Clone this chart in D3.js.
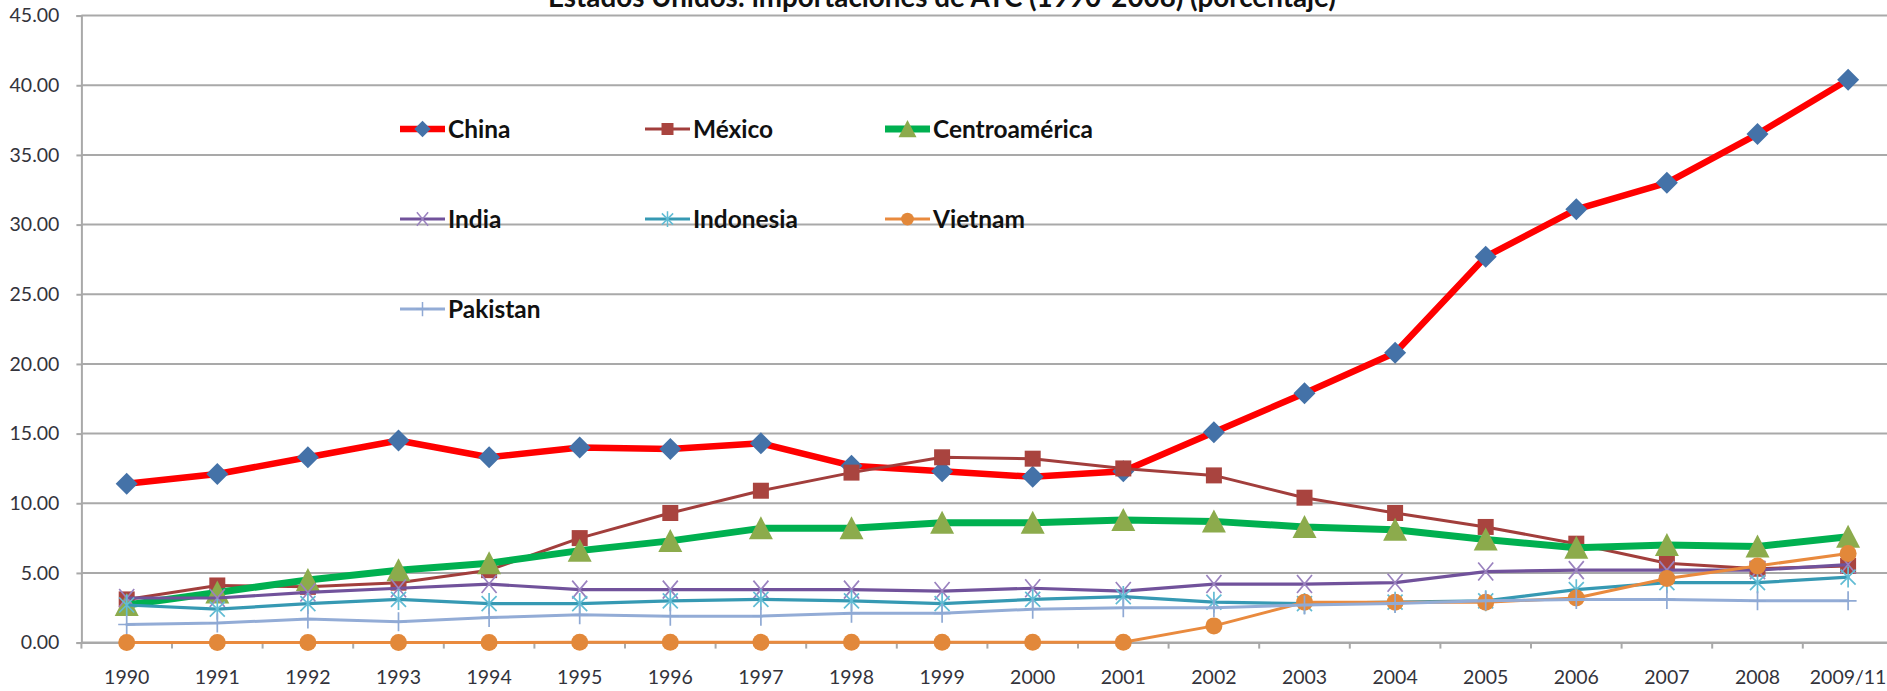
<!DOCTYPE html>
<html><head><meta charset="utf-8">
<script src="https://cdn.jsdelivr.net/npm/d3@7"></script>
<style>
body{margin:0;background:#fff;overflow:hidden}
text{font-family:Lato,"Open Sans","DejaVu Sans",sans-serif}
</style>
</head><body>
<svg id="c" width="1887" height="691"></svg>
<script>
// ---------- DATA ----------
const categories = ["1990","1991","1992","1993","1994","1995","1996","1997","1998","1999","2000","2001","2002","2003","2004","2005","2006","2007","2008","2009/11"];
const china         = [11.4,12.1,13.3,14.5,13.3,14.0,13.9,14.3,12.7,12.3,11.9,12.3,15.1,17.9,20.8,27.7,31.1,33.0,36.5,40.4];
const mexico        = [3.1,4.1,4.0,4.3,5.2,7.5,9.3,10.9,12.2,13.3,13.2,12.5,12.0,10.4,9.3,8.3,7.1,5.7,5.3,5.5];
const centroamerica = [2.7,3.6,4.5,5.2,5.7,6.6,7.3,8.2,8.2,8.6,8.6,8.8,8.7,8.3,8.1,7.4,6.8,7.0,6.9,7.6];
const india         = [3.2,3.2,3.6,3.9,4.2,3.8,3.8,3.8,3.8,3.7,3.9,3.7,4.2,4.2,4.3,5.1,5.2,5.2,5.2,5.6];
const indonesia     = [2.7,2.4,2.8,3.1,2.8,2.8,3.0,3.1,3.0,2.8,3.1,3.3,2.9,2.8,2.9,3.0,3.8,4.3,4.3,4.7];
const vietnam       = [0.0,0.0,0.0,0.0,0.0,0.02,0.02,0.02,0.02,0.02,0.02,0.02,1.2,2.9,2.9,2.9,3.2,4.6,5.5,6.4];
const pakistan      = [1.3,1.4,1.7,1.5,1.8,2.0,1.9,1.9,2.1,2.1,2.4,2.5,2.5,2.7,2.8,3.0,3.1,3.1,3.0,3.0];
const seriesNames   = ["China","México","Centroamérica","India","Indonesia","Vietnam","Pakistan"];
const yTicks        = [0,5,10,15,20,25,30,35,40,45];
const titleText     = "Estados Unidos: importaciones de ATC (1990-2008) (porcentaje)";

// ---------- STYLE ----------
const styles = [
  {values:china,         line:"#ff0000", width:6.5, marker:"diamond",  fill:"#4472a8", stroke:"none"},
  {values:mexico,        line:"#a23e3c", width:3,   marker:"square",   fill:"#a9443f", stroke:"none"},
  {values:centroamerica, line:"#00b050", width:7,   marker:"triangle", fill:"#8cab4c", stroke:"none"},
  {values:india,         line:"#71529b", width:3.2, marker:"x",        fill:"none",    stroke:"#9a82bf"},
  {values:indonesia,     line:"#3699b3", width:3.2, marker:"star",     fill:"none",    stroke:"#62bcd4"},
  {values:vietnam,       line:"#e98a3e", width:3,   marker:"circle",   fill:"#e2883a", stroke:"none"},
  {values:pakistan,      line:"#93acd6", width:3,   marker:"plus",     fill:"none",    stroke:"#8fa9d4"}
];

function markerPath(type, s){
  switch(type){
    case "diamond":  return `M0,${-11*s}L${11*s},0L0,${11*s}L${-11*s},0Z`;
    case "square":   return `M${-8*s},${-8*s}h${16*s}v${16*s}h${-16*s}Z`;
    case "triangle": return `M0,${-12*s}L${12*s},${11*s}L${-12*s},${11*s}Z`;
    case "circle":   return `M${-8.5*s},0a${8.5*s},${8.5*s} 0 1,0 ${17*s},0a${8.5*s},${8.5*s} 0 1,0 ${-17*s},0Z`;
    case "x":        return `M${-7.5*s},${-9*s}L${7.5*s},${9*s}M${7.5*s},${-9*s}L${-7.5*s},${9*s}`;
    case "star":     return `M${-7.5*s},${-7.5*s}L${7.5*s},${7.5*s}M${7.5*s},${-7.5*s}L${-7.5*s},${7.5*s}M0,${-10.5*s}V${10.5*s}`;
    case "plus":     return `M0,${-9.5*s}V${9.5*s}M${-8.5*s},0H${8.5*s}`;
  }
}

// ---------- LAYOUT ----------
const svg = d3.select("#c");
const plotLeft = 81.4, catStep = 90.6, plotTop = 15.6, plotBottom = 642.6;
const x = d3.scaleBand().domain(categories).range([plotLeft, plotLeft + catStep*categories.length]).padding(0);
const cx = c => x(c) + x.bandwidth()/2;
const y = d3.scaleLinear().domain([0,45]).range([plotBottom, plotTop]);

// gridlines
svg.append("g").selectAll("line").data(yTicks).join("line")
  .attr("x1", plotLeft).attr("x2", 1887).attr("y1", d=>y(d)).attr("y2", d=>y(d))
  .attr("stroke", "#a9a9a9").attr("stroke-width", 2);

// y axis
const yAxis = svg.append("g").attr("transform", `translate(${plotLeft},0)`)
  .call(d3.axisLeft(y).tickValues(yTicks).tickFormat(d3.format(".2f")).tickSize(5).tickPadding(17));
yAxis.select(".domain").attr("stroke", "#a9a9a9").attr("stroke-width", 2);
yAxis.selectAll(".tick line").attr("stroke", "#a9a9a9").attr("stroke-width", 2);
yAxis.selectAll("text").attr("font-size", 19.5).attr("fill", "#33333b").attr("font-family", "Lato");

// x axis
const xAxis = svg.append("g").attr("transform", `translate(0,${plotBottom})`)
  .call(d3.axisBottom(x).tickSize(0).tickPadding(28));
xAxis.select(".domain").attr("stroke", "#a9a9a9").attr("stroke-width", 2);
xAxis.selectAll("text").attr("font-size", 19.5).attr("fill", "#33333b").attr("font-family", "Lato");
// boundary tick marks (between categories)
svg.append("g").selectAll("line").data(d3.range(categories.length + 1)).join("line")
  .attr("x1", i => plotLeft + i*x.step()).attr("x2", i => plotLeft + i*x.step())
  .attr("y1", plotBottom).attr("y2", plotBottom + 6)
  .attr("stroke", "#a9a9a9").attr("stroke-width", 2);

// series
const line = d3.line().x((d,i)=>cx(categories[i])).y(d=>y(d));
styles.forEach(st => {
  const g = svg.append("g");
  g.append("path").attr("d", line(st.values)).attr("fill","none")
    .attr("stroke", st.line).attr("stroke-width", st.width).attr("stroke-linejoin","round").attr("stroke-linecap","round");
  g.selectAll("path.m").data(st.values).join("path").attr("class","m")
    .attr("d", markerPath(st.marker, 1))
    .attr("transform", (d,i)=>`translate(${cx(categories[i])},${y(d)})`)
    .attr("fill", st.fill).attr("stroke", st.stroke).attr("stroke-width", 1.7);
});

// legend
const legCols = [400, 645, 885], legRows = [129, 219, 309];
const leg = svg.append("g");
seriesNames.forEach((name, k) => {
  const st = styles[k];
  const lx = legCols[k % 3], ly = legRows[Math.floor(k / 3)];
  const g = leg.append("g").attr("transform", `translate(${lx},${ly})`);
  g.append("line").attr("x1", 0).attr("x2", 45).attr("y1", 0).attr("y2", 0)
    .attr("stroke", st.line).attr("stroke-width", st.width);
  g.append("path").attr("d", markerPath(st.marker, 0.75)).attr("transform", "translate(22.5,0)")
    .attr("fill", st.fill).attr("stroke", st.stroke).attr("stroke-width", 1.5);
  g.append("text").attr("class","lt").attr("x", 48).attr("y", 0).attr("dy", "0.35em")
    .attr("font-size", 20).attr("font-weight", "bold").attr("fill", "#111").text(name);
});
// fit legend font so "Centroamérica" spans ~160px
const ref = leg.selectAll("text.lt").filter(function(){return this.textContent === "Centroamérica";}).node();
const fs = 20 * 160 / ref.getComputedTextLength();
leg.selectAll("text.lt").attr("font-size", fs);

// title (clipped at top, as in the reference)
const t = svg.append("text").attr("x", 942).attr("y", 7).attr("text-anchor", "middle")
  .attr("font-size", 22).attr("font-weight", "bold").attr("fill", "#111").text(titleText);
const tfs = 22 * 788 / t.node().getComputedTextLength();
t.attr("font-size", tfs);
</script>
</body></html>
